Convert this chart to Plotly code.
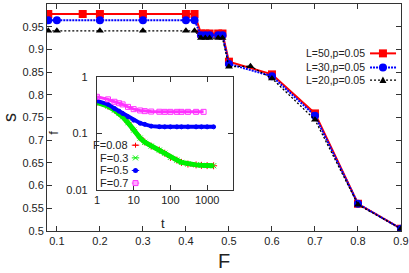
import plotly.graph_objects as go

# ---- main panel data ----
F_L50 = [0.08, 0.16, 0.2, 0.3, 0.4, 0.42, 0.435, 0.445, 0.455, 0.475, 0.485, 0.5, 0.6, 0.7, 0.8, 0.9]
S_L50 = [0.978, 0.978, 0.978, 0.978, 0.978, 0.978, 0.935, 0.935, 0.935, 0.935, 0.935, 0.873, 0.845, 0.759, 0.560, 0.505]

F_L30 = [0.08, 0.1, 0.2, 0.3, 0.4, 0.42, 0.435, 0.445, 0.455, 0.475, 0.485, 0.5, 0.6, 0.7, 0.8, 0.9]
S_L30 = [0.964, 0.964, 0.964, 0.964, 0.964, 0.964, 0.931, 0.931, 0.931, 0.931, 0.931, 0.868, 0.841, 0.754, 0.560, 0.505]

F_L20 = [0.08, 0.1, 0.2, 0.3, 0.4, 0.42, 0.435, 0.445, 0.455, 0.475, 0.485, 0.5, 0.55, 0.6, 0.7, 0.8, 0.9]
S_L20 = [0.941, 0.941, 0.941, 0.941, 0.941, 0.941, 0.925, 0.925, 0.925, 0.925, 0.925, 0.862, 0.863, 0.836, 0.745, 0.558, 0.505]

main_names = ["L=50,p=0.05", "L=30,p=0.05", "L=20,p=0.05"]
main_xticks = [0.1, 0.2, 0.3, 0.4, 0.5, 0.6, 0.7, 0.8, 0.9]

# ---- inset data ----
t_vals = [1, 2, 3, 4, 5, 7, 10, 15, 20, 30, 50, 70, 100, 150, 200, 300, 500, 700, 1000, 1500]
f_008 = [0.352, 0.303, 0.259, 0.225, 0.199, 0.156, 0.116, 0.084, 0.071, 0.060, 0.051, 0.045, 0.038, 0.034, 0.031, 0.029, 0.028, 0.0275, 0.0272, 0.027]
f_03 = [0.353, 0.304, 0.258, 0.226, 0.197, 0.155, 0.115, 0.083, 0.070, 0.060, 0.051, 0.045, 0.038, 0.034, 0.031, 0.029, 0.028, 0.0275, 0.0272, 0.027]
f_05 = [0.377, 0.326, 0.277, 0.248, 0.226, 0.197, 0.172, 0.152, 0.145, 0.135, 0.132, 0.131, 0.131, 0.131, 0.131, 0.131, 0.131, 0.131, 0.131, 0.131]
t_07 = [1, 2, 3, 4, 5, 7, 10, 15, 20, 30, 50, 70, 100, 150, 200, 300, 500, 800]
f_07 = [0.444, 0.400, 0.363, 0.342, 0.326, 0.295, 0.269, 0.255, 0.248, 0.244, 0.242, 0.241, 0.241, 0.241, 0.241, 0.241, 0.241, 0.241]
inset_names = ["F=0.08", "F=0.3", "F=0.5", "F=0.7"]
inset_xticks = [1, 10, 100, 1000]
inset_yticks = [0.01, 0.1, 1]

FONT = "Liberation Sans Narrow, Liberation Sans, Arial, sans-serif"
AX = "#333333"

main_style = [
    dict(color="#ff0000", width=2, dash="solid", symbol="square", size=8),
    dict(color="#0000ff", width=2, dash="2px,1px", symbol="circle", size=8),
    dict(color="#000000", width=1.3, dash="2px,2px", symbol="triangle-up", size=7),
]
inset_style = [
    dict(color="#ff0000", width=4, symbol="cross-thin-open", size=5),
    dict(color="#00f000", width=5, symbol="x-thin-open", size=5),
    dict(color="#0000ff", width=4, symbol="circle", size=4),
    dict(color="#ff33ff", width=3, symbol="square-open", size=5),
]

fig = go.Figure()

for name, xs, ys, st in zip(main_names, [F_L50, F_L30, F_L20], [S_L50, S_L30, S_L20], main_style):
    fig.add_trace(go.Scatter(x=xs, y=ys, name=name, mode="lines+markers", showlegend=False,
                             line=dict(color=st["color"], width=st["width"], dash=st["dash"]),
                             marker=dict(symbol=st["symbol"], size=st["size"], color=st["color"])))

for name, tv, fv, st in zip(inset_names, [t_vals, t_vals, t_vals, t_07], [f_008, f_03, f_05, f_07], inset_style):
    fig.add_trace(go.Scatter(x=tv, y=fv, name=name, mode="lines+markers", showlegend=False,
                             xaxis="x2", yaxis="y2",
                             line=dict(color=st["color"], width=st["width"]),
                             marker=dict(symbol=st["symbol"], size=st["size"], color=st["color"],
                                         line=dict(color=st["color"], width=1))))

# ---- gnuplot-style keys (text right-aligned, sample to its right) ----
shapes = []
annotations = []

def key_entry(label, st, xt, x0, x1, xm, y, fsize, marker_px, lw, dash):
    annotations.append(dict(text=label, xref="paper", yref="paper", x=xt, y=y,
                            xanchor="right", yanchor="middle", showarrow=False,
                            font=dict(family=FONT, size=fsize, color="#222")))
    shapes.append(dict(type="line", xref="paper", yref="paper", x0=x0, x1=x1, y0=y, y1=y,
                       line=dict(color=st["color"], width=lw, dash=dash)))
    s = marker_px / 2.0
    sym = st["symbol"]
    common = dict(xref="paper", yref="paper", xsizemode="pixel", ysizemode="pixel",
                  xanchor=xm, yanchor=y)
    if sym == "square":
        shapes.append(dict(type="rect", x0=-s, x1=s, y0=-s, y1=s, fillcolor=st["color"],
                           line=dict(width=0), **common))
    elif sym == "circle":
        shapes.append(dict(type="circle", x0=-s, x1=s, y0=-s, y1=s, fillcolor=st["color"],
                           line=dict(width=0), **common))
    elif sym == "triangle-up":
        shapes.append(dict(type="path", path=f"M{-s},{-s*0.8} L{s},{-s*0.8} L0,{s} Z",
                           fillcolor=st["color"], line=dict(width=0), **common))
    elif sym == "cross-thin-open":
        shapes.append(dict(type="path", path=f"M{-s},0 L{s},0 M0,{-s} L0,{s}",
                           line=dict(color=st["color"], width=1), **common))
    elif sym == "x-thin-open":
        shapes.append(dict(type="path", path=f"M{-s},{-s} L{s},{s} M{-s},{s} L{s},{-s}",
                           line=dict(color=st["color"], width=1), **common))
    elif sym == "square-open":
        shapes.append(dict(type="rect", x0=-s, x1=s, y0=-s, y1=s, fillcolor="#ffaaff",
                           line=dict(color=st["color"], width=1), **common))

main_rows = [0.7825, 0.7208, 0.6648]
for name, st, y in zip(main_names, main_style, main_rows):
    key_entry(name, st, 0.903, 0.9125, 0.986, 0.949, y, 10.5, st["size"], st["width"],
              "solid" if st["dash"] == "solid" else st["dash"])

inset_rows = [0.378, 0.3222, 0.2667, 0.2111]
for name, st, y in zip(inset_names, inset_style, inset_rows):
    key_entry(name, st, 0.2333, 0.2395, 0.2605, 0.25, y, 11, 5, 1, "solid")

# inset axis titles (gnuplot places them away from the inset tick labels)
annotations.append(dict(text="f", xref="paper", yref="paper", x=0.016, y=0.431,
                        textangle=-90, showarrow=False, xanchor="center", yanchor="middle",
                        font=dict(family=FONT, size=13, color="#222")))
annotations.append(dict(text="t", xref="paper", yref="paper", x=0.328, y=0.034,
                        showarrow=False, xanchor="center", yanchor="middle",
                        font=dict(family=FONT, size=13, color="#222")))

axis_common = dict(showline=True, linecolor=AX, linewidth=1, mirror="allticks",
                   ticks="inside", ticklen=5, tickcolor=AX, showgrid=False, automargin=False,
                   zeroline=False, tickfont=dict(family=FONT, size=11, color="#222"))

fig.update_layout(
    width=409, height=273,
    margin=dict(l=47, r=8, t=4, b=42),
    paper_bgcolor="white", plot_bgcolor="white",
    font=dict(family=FONT, size=11, color="#222"),
    showlegend=False,
    xaxis=dict(range=[0.077, 0.9], tickvals=main_xticks,
               title=dict(text="F", font=dict(size=20), standoff=7), **axis_common),
    yaxis=dict(range=[0.5, 1.0], dtick=0.05, tickformat="~g",
               title=dict(text="s", font=dict(size=18), standoff=8), **axis_common),
    xaxis2=dict(type="log", range=[0, 3.7], domain=[0.1411, 0.525], anchor="y2",
                tickvals=inset_xticks, ticktext=[str(v) for v in inset_xticks], **axis_common),
    yaxis2=dict(type="log", range=[-2, 0], domain=[0.1795, 0.6793], anchor="x2",
                tickvals=inset_yticks, ticktext=[str(v) for v in inset_yticks],
                ticklabelstandoff=6, **axis_common),
    shapes=shapes,
    annotations=annotations,
)

fig.write_html("out.html", config={"displayModeBar": False},
               post_script="document.body.style.margin='0px';document.body.style.padding='0px';")
